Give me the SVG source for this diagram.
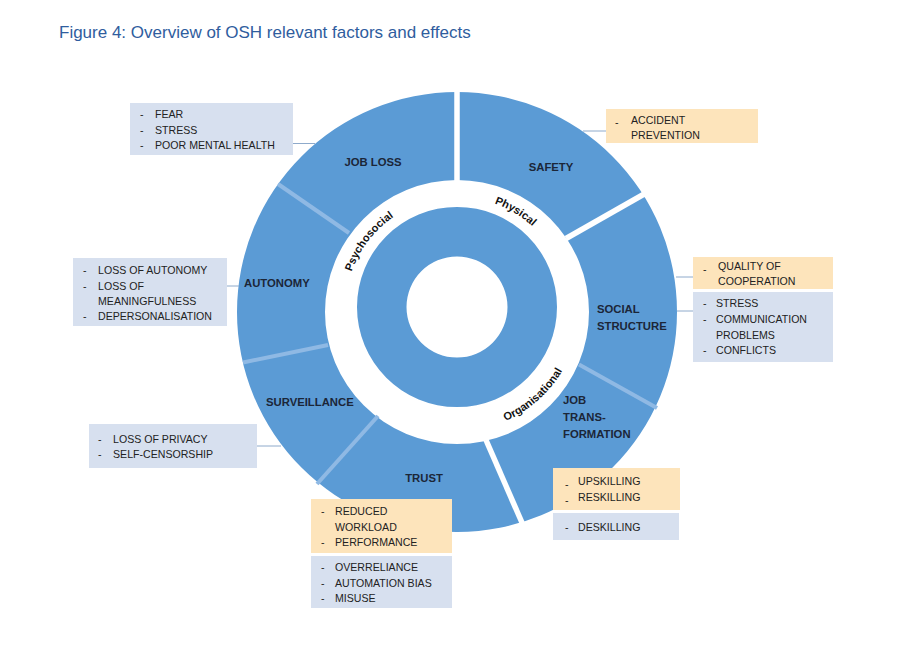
<svg xmlns="http://www.w3.org/2000/svg" width="916" height="650" viewBox="0 0 916 650">
<style>
.ring{fill:#5b9bd5;fill-rule:evenodd}
.gap{stroke:#ffffff;stroke-width:5.5;fill:none}
.div{stroke:#8fb9e4;stroke-width:4;fill:none}
.lead{stroke:#8eaacb;stroke-width:1;fill:none}
.seg{font-family:"Liberation Sans",Arial,sans-serif;font-weight:bold;font-size:11.3px;fill:#1b2638}
.cat{font-family:"Liberation Sans",Arial,sans-serif;font-weight:bold;font-size:11px;fill:#111111}
.bx{font-family:"Liberation Sans",Arial,sans-serif;font-size:10.6px;fill:#222222}
.blue{fill:#d7e0ef}
.peach{fill:#fde4bb}
.title{font-family:"Liberation Sans",Arial,sans-serif;font-size:17px;fill:#2f5d9e}
</style>
<defs>
<path id="pPhys" d="M439.5,198.4 A112,112 0 0 1 562.9,272.5"/>
<path id="pPsy" d="M345.1,313.9 A112.5,112.5 0 0 1 432.8,199.7"/>
<path id="pOrg" d="M460.2,431 A122,122 0 0 0 577.7,327"/>
</defs>
<rect width="916" height="650" fill="#ffffff"/>
<text class="title" x="59" y="38">Figure 4: Overview of OSH relevant factors and effects</text>

<g id="ring">
<path class="ring" d="M237,312 a220,220 0 1,0 440,0 a220,220 0 1,0 -440,0 Z M325,312 a132,132 0 1,0 264,0 a132,132 0 1,0 -264,0 Z"/>
<path class="ring" d="M357,307 a100,100 0 1,0 200,0 a100,100 0 1,0 -200,0 Z M406.5,307 a50.5,50.5 0 1,0 101,0 a50.5,50.5 0 1,0 -101,0 Z"/>
<line class="div" x1="278" y1="184" x2="349" y2="233"/>
<line class="div" x1="243" y1="362.5" x2="328" y2="345"/>
<line class="div" x1="317" y1="484" x2="378" y2="416"/>
<line class="div" x1="579" y1="364.5" x2="657" y2="408"/>
<line class="gap" x1="457" y1="88" x2="457" y2="183"/>
<line class="gap" x1="566" y1="238.5" x2="646" y2="193"/>
<line class="gap" x1="486" y1="440" x2="523" y2="525"/>
</g>

<g id="categories">
<text class="cat"><textPath href="#pPhys" startOffset="50%" text-anchor="middle">Physical</textPath></text>
<text class="cat"><textPath href="#pPsy" startOffset="50%" text-anchor="middle">Psychosocial</textPath></text>
<text class="cat"><textPath href="#pOrg" startOffset="50%" text-anchor="middle">Organisational</textPath></text>
</g>

<g id="connectors">
<line class="lead" x1="293" y1="143.5" x2="315" y2="143.5"/>
<line class="lead" x1="583" y1="131" x2="606" y2="131"/>
<line class="lead" x1="676" y1="277" x2="693" y2="277"/>
<line class="lead" x1="677" y1="311" x2="693" y2="311"/>
<line class="lead" x1="227" y1="286" x2="239" y2="286"/>
<line class="lead" x1="257" y1="446" x2="281" y2="446"/>
</g>

<g id="job-loss">
<text class="seg" x="373" y="166" text-anchor="middle">JOB LOSS</text>
<rect class="blue" x="130" y="103" width="163" height="52"/>
<text class="bx" x="140" y="118">-</text><text class="bx" x="155" y="118">FEAR</text>
<text class="bx" x="140" y="133.5">-</text><text class="bx" x="155" y="133.5">STRESS</text>
<text class="bx" x="140" y="149">-</text><text class="bx" x="155" y="149">POOR MENTAL HEALTH</text>
</g>

<g id="safety">
<text class="seg" x="551" y="171" text-anchor="middle">SAFETY</text>
<rect class="peach" x="606" y="109" width="152" height="34"/>
<text class="bx" x="615" y="126">-</text><text class="bx" x="631" y="123.5">ACCIDENT</text>
<text class="bx" x="631" y="138.5">PREVENTION</text>
</g>

<g id="social-structure">
<text class="seg" x="597" y="313">SOCIAL</text>
<text class="seg" x="597" y="330">STRUCTURE</text>
<rect class="peach" x="693" y="257" width="140" height="32"/>
<text class="bx" x="703" y="272.5">-</text><text class="bx" x="718" y="270">QUALITY OF</text>
<text class="bx" x="718" y="285">COOPERATION</text>
<rect class="blue" x="693" y="292" width="140" height="70"/>
<text class="bx" x="703" y="307">-</text><text class="bx" x="716" y="307">STRESS</text>
<text class="bx" x="703" y="323">-</text><text class="bx" x="716" y="323">COMMUNICATION</text>
<text class="bx" x="716" y="338.5">PROBLEMS</text>
<text class="bx" x="703" y="354">-</text><text class="bx" x="716" y="354">CONFLICTS</text>
</g>

<g id="autonomy">
<text class="seg" x="244" y="287">AUTONOMY</text>
<rect class="blue" x="73" y="258" width="154" height="68"/>
<text class="bx" x="83" y="274">-</text><text class="bx" x="98" y="274">LOSS OF AUTONOMY</text>
<text class="bx" x="83" y="289.5">-</text><text class="bx" x="98" y="289.5">LOSS OF</text>
<text class="bx" x="98" y="305">MEANINGFULNESS</text>
<text class="bx" x="83" y="320">-</text><text class="bx" x="98" y="320">DEPERSONALISATION</text>
</g>

<g id="surveillance">
<text class="seg" x="266" y="406">SURVEILLANCE</text>
<rect class="blue" x="89" y="424" width="168" height="44"/>
<text class="bx" x="98" y="443">-</text><text class="bx" x="113" y="443">LOSS OF PRIVACY</text>
<text class="bx" x="98" y="458">-</text><text class="bx" x="113" y="458">SELF-CENSORSHIP</text>
</g>

<g id="trust">
<text class="seg" x="424" y="482" text-anchor="middle">TRUST</text>
<rect class="peach" x="311" y="499" width="141" height="54"/>
<text class="bx" x="321" y="515">-</text><text class="bx" x="335" y="515">REDUCED</text>
<text class="bx" x="335" y="531">WORKLOAD</text>
<text class="bx" x="321" y="546">-</text><text class="bx" x="335" y="546">PERFORMANCE</text>
<rect class="blue" x="311" y="556" width="141" height="52"/>
<text class="bx" x="321" y="571">-</text><text class="bx" x="335" y="571">OVERRELIANCE</text>
<text class="bx" x="321" y="586.5">-</text><text class="bx" x="335" y="586.5">AUTOMATION BIAS</text>
<text class="bx" x="321" y="602">-</text><text class="bx" x="335" y="602">MISUSE</text>
</g>

<g id="job-transformation">
<text class="seg" x="563" y="404">JOB</text>
<text class="seg" x="563" y="421">TRANS-</text>
<text class="seg" x="563" y="438">FORMATION</text>
<rect class="peach" x="553" y="468" width="127" height="42"/>
<text class="bx" x="565" y="488">-</text><text class="bx" x="578" y="485">UPSKILLING</text>
<text class="bx" x="565" y="504">-</text><text class="bx" x="578" y="501">RESKILLING</text>
<rect class="blue" x="553" y="513" width="126" height="27"/>
<text class="bx" x="565" y="531">-</text><text class="bx" x="578" y="531">DESKILLING</text>
</g>
</svg>
